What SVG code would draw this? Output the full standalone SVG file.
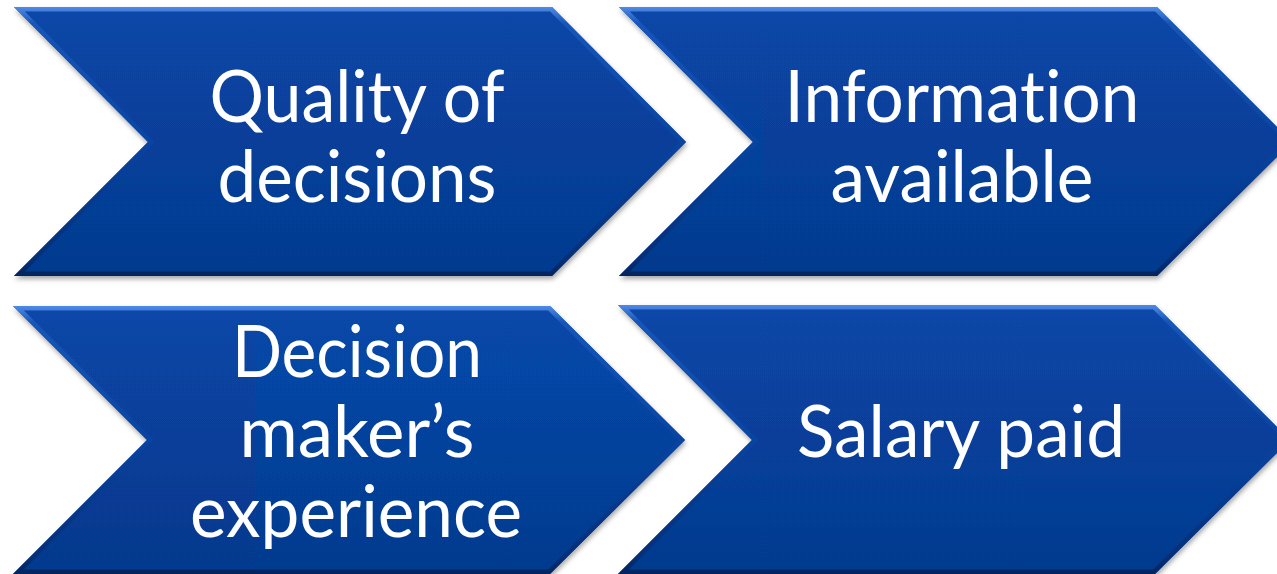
<svg xmlns="http://www.w3.org/2000/svg" width="1277" height="574" viewBox="0 0 1277 574">
<defs>
<linearGradient id="fillG" x1="0" y1="0" x2="0" y2="1">
<stop offset="0" stop-color="#0747A8"/>
<stop offset="1" stop-color="#063A8E"/>
</linearGradient>
<linearGradient id="bevG" x1="0" y1="0" x2="0" y2="1">
<stop offset="0" stop-color="#4F8AE6"/>
<stop offset="0.06" stop-color="#1656BA"/>
<stop offset="0.5" stop-color="#0944A2"/>
<stop offset="0.94" stop-color="#052F78"/>
<stop offset="1" stop-color="#03245E"/>
</linearGradient>
<filter id="sh" x="-5%" y="-5%" width="110%" height="115%">
<feGaussianBlur in="SourceAlpha" stdDeviation="2.5"/>
<feOffset dx="1" dy="3" result="b"/>
<feFlood flood-color="#000" flood-opacity="0.35"/>
<feComposite in2="b" operator="in"/>
<feMerge><feMergeNode/><feMergeNode in="SourceGraphic"/></feMerge>
</filter>
<clipPath id="c1"><polygon points="14,7 552,7 686,142 552,276 14,276 148,142"/></clipPath>
<clipPath id="c2"><polygon points="619,7 1157,7 1292,142 1157,276 619,276 753,142"/></clipPath>
<clipPath id="c3"><polygon points="13,306 550,306 685,440 550,574 13,574 147,440"/></clipPath>
<clipPath id="c4"><polygon points="618,305 1155,305 1290,440 1155,574 618,574 752,440"/></clipPath>
</defs>
<style>
.body{fill:url(#fillG);}
.bev{fill:none;stroke:url(#bevG);stroke-width:9;stroke-linejoin:miter;}
.t{fill:#FFFFFF;font-family:Lato,"Open Sans","Liberation Sans",sans-serif;font-size:71px;text-anchor:middle;font-variant-ligatures:none;font-feature-settings:"liga" 0,"clig" 0;}
</style>
<rect width="1277" height="574" fill="#FFFFFF"/>
<g id="node1">
<g filter="url(#sh)"><polygon class="body" points="14,7 552,7 686,142 552,276 14,276 148,142"/></g>
<polygon class="bev" clip-path="url(#c1)" points="14,7 552,7 686,142 552,276 14,276 148,142"/>
<text class="t" x="357" y="122" textLength="295" lengthAdjust="spacingAndGlyphs">Quality of</text>
<text class="t" x="357" y="202" textLength="279" lengthAdjust="spacingAndGlyphs">decisions</text>
</g>
<g id="node2">
<g filter="url(#sh)"><polygon class="body" points="619,7 1157,7 1292,142 1157,276 619,276 753,142"/></g>
<polygon class="bev" clip-path="url(#c2)" points="619,7 1157,7 1292,142 1157,276 619,276 753,142"/>
<text class="t" x="962" y="122" textLength="355" lengthAdjust="spacingAndGlyphs">Information</text>
<text class="t" x="962" y="202" textLength="263" lengthAdjust="spacingAndGlyphs">available</text>
</g>
<g id="node3">
<g filter="url(#sh)"><polygon class="body" points="13,306 550,306 685,440 550,574 13,574 147,440"/></g>
<polygon class="bev" clip-path="url(#c3)" points="13,306 550,306 685,440 550,574 13,574 147,440"/>
<text class="t" x="357" y="377" textLength="250" lengthAdjust="spacingAndGlyphs">Decision</text>
<text class="t" x="357" y="457" textLength="235" lengthAdjust="spacingAndGlyphs">maker’s</text>
<text class="t" x="356" y="537" textLength="332" lengthAdjust="spacingAndGlyphs">experience</text>
</g>
<g id="node4">
<g filter="url(#sh)"><polygon class="body" points="618,305 1155,305 1290,440 1155,574 618,574 752,440"/></g>
<polygon class="bev" clip-path="url(#c4)" points="618,305 1155,305 1290,440 1155,574 618,574 752,440"/>
<text class="t" x="961" y="457" textLength="328" lengthAdjust="spacingAndGlyphs">Salary paid</text>
</g>
<g id="connectors"/>
</svg>
